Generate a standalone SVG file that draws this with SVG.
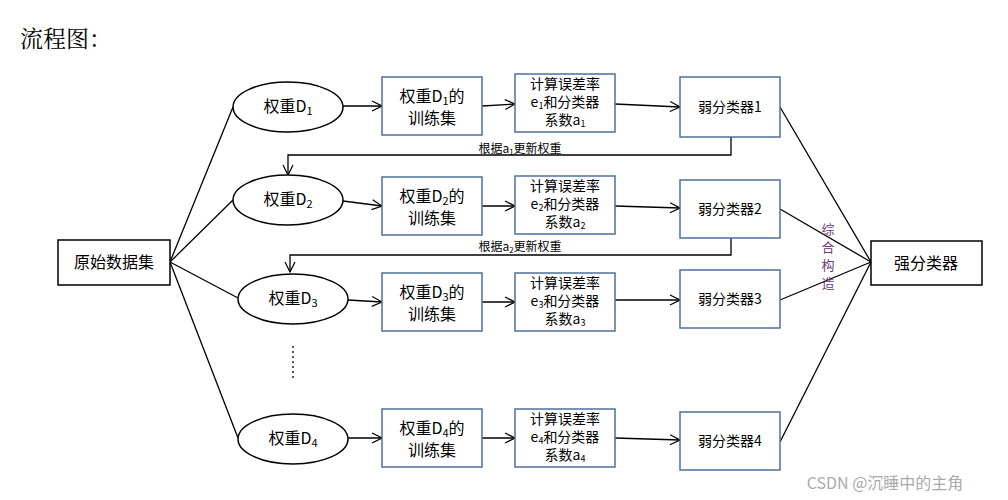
<svg xmlns="http://www.w3.org/2000/svg" width="1008" height="500" viewBox="0 0 1008 500">
<defs>
<marker id="a" markerWidth="12" markerHeight="12" refX="11" refY="6" orient="auto" markerUnits="userSpaceOnUse"><path d="M1,1 L11,6 L1,11" fill="none" stroke="#000" stroke-width="1.2"/></marker>
<style>
text{font-family:"Noto Sans CJK SC","Liberation Sans",sans-serif;fill:#000;text-anchor:middle}
.bb{fill:#fff;stroke:#4f6f9f;stroke-width:1.5}
.bk{fill:#fff;stroke:#000;stroke-width:1.5}
.el{fill:#fff;stroke:#000;stroke-width:1.5}
.c line,.c polyline{stroke:#000;stroke-width:1.3;fill:none}
.t16{font-size:16px}.t14{font-size:14px}.t12{font-size:12px}
.v{font-size:13px;fill:#6a3a7a}
</style>
</defs>
<rect width="1008" height="500" fill="#fff"/>
<text x="20" y="47" style="font-family:'Noto Serif CJK SC','Noto Sans CJK SC',serif;font-size:23px;text-anchor:start">流程图：</text>
<g class="c">
<line x1="170" y1="262" x2="233" y2="107"/><line x1="170" y1="262" x2="233" y2="200"/><line x1="170" y1="262" x2="238" y2="298"/><line x1="170" y1="262" x2="238" y2="438"/>
<line x1="343" y1="106" x2="382" y2="106" marker-end="url(#a)"/><line x1="343" y1="201" x2="382" y2="206" marker-end="url(#a)"/><line x1="348" y1="300" x2="382" y2="302" marker-end="url(#a)"/><line x1="348" y1="438" x2="382" y2="438" marker-end="url(#a)"/>
<line x1="482" y1="106" x2="515" y2="104" marker-end="url(#a)"/><line x1="482" y1="206" x2="515" y2="206" marker-end="url(#a)"/><line x1="482" y1="302" x2="515" y2="302" marker-end="url(#a)"/><line x1="482" y1="438" x2="515" y2="438" marker-end="url(#a)"/>
<line x1="615" y1="104" x2="680" y2="107" marker-end="url(#a)"/><line x1="615" y1="206" x2="680" y2="208" marker-end="url(#a)"/><line x1="615" y1="300" x2="680" y2="300" marker-end="url(#a)"/><line x1="615" y1="438" x2="680" y2="440" marker-end="url(#a)"/>
<polyline points="731,137 731,155 288,155 288,175" marker-end="url(#a)"/>
<polyline points="731,238 731,255 290,255 290,272" marker-end="url(#a)"/>
<line x1="780" y1="107" x2="871" y2="262"/><line x1="780" y1="209" x2="871" y2="262"/><line x1="780" y1="300" x2="871" y2="262"/><line x1="780" y1="442" x2="871" y2="262"/>
<line x1="293" y1="346" x2="293" y2="380" stroke-dasharray="2,3" stroke-width="2.5"/>
</g>
<text class="t12" x="520" y="153">根据a<tspan font-size="8" dy="2">1</tspan><tspan dy="-2">更新权重</tspan></text>
<text class="t12" x="520" y="251">根据a<tspan font-size="8" dy="2">2</tspan><tspan dy="-2">更新权重</tspan></text>
<g id="n0"><rect class="bk" x="58" y="240" width="112" height="45"/><text class="t16" x="114" y="268">原始数据集</text></g>
<g id="ns"><rect class="bk" x="871" y="241" width="111" height="44"/><text class="t16" x="926" y="269">强分类器</text></g>
<g id="e1"><ellipse class="el" cx="288" cy="107" rx="55" ry="25"/><text class="t16" x="288" y="112">权重D<tspan font-size="11" dy="3">1</tspan></text></g>
<g id="e2"><ellipse class="el" cx="288" cy="200" rx="55" ry="25"/><text class="t16" x="288" y="205">权重D<tspan font-size="11" dy="3">2</tspan></text></g>
<g id="e3"><ellipse class="el" cx="293" cy="299" rx="55" ry="25"/><text class="t16" x="293" y="304">权重D<tspan font-size="11" dy="3">3</tspan></text></g>
<g id="e4"><ellipse class="el" cx="293" cy="439" rx="55" ry="25"/><text class="t16" x="293" y="444">权重D<tspan font-size="11" dy="3">4</tspan></text></g>
<g id="t1"><rect class="bb" x="382" y="77" width="100" height="58"/><text class="t16" x="432" y="102">权重D<tspan font-size="11" dy="3">1</tspan><tspan dy="-3">的</tspan></text><text class="t16" x="432" y="124">训练集</text></g>
<g id="t2"><rect class="bb" x="382" y="177" width="100" height="58"/><text class="t16" x="432" y="202">权重D<tspan font-size="11" dy="3">2</tspan><tspan dy="-3">的</tspan></text><text class="t16" x="432" y="224">训练集</text></g>
<g id="t3"><rect class="bb" x="382" y="273" width="100" height="58"/><text class="t16" x="432" y="298">权重D<tspan font-size="11" dy="3">3</tspan><tspan dy="-3">的</tspan></text><text class="t16" x="432" y="320">训练集</text></g>
<g id="t4"><rect class="bb" x="382" y="409" width="100" height="58"/><text class="t16" x="432" y="434">权重D<tspan font-size="11" dy="3">4</tspan><tspan dy="-3">的</tspan></text><text class="t16" x="432" y="456">训练集</text></g>
<g id="c1"><rect class="bb" x="515" y="74" width="100" height="58"/><text class="t14" x="565" y="89">计算误差率</text><text class="t14" x="565" y="107">e<tspan font-size="9" dy="2">1</tspan><tspan dy="-2">和分类器</tspan></text><text class="t14" x="565" y="125">系数a<tspan font-size="9" dy="2">1</tspan></text></g>
<g id="c2"><rect class="bb" x="515" y="176" width="100" height="58"/><text class="t14" x="565" y="191">计算误差率</text><text class="t14" x="565" y="209">e<tspan font-size="9" dy="2">2</tspan><tspan dy="-2">和分类器</tspan></text><text class="t14" x="565" y="227">系数a<tspan font-size="9" dy="2">2</tspan></text></g>
<g id="c3"><rect class="bb" x="515" y="273" width="100" height="58"/><text class="t14" x="565" y="288">计算误差率</text><text class="t14" x="565" y="306">e<tspan font-size="9" dy="2">3</tspan><tspan dy="-2">和分类器</tspan></text><text class="t14" x="565" y="324">系数a<tspan font-size="9" dy="2">3</tspan></text></g>
<g id="c4"><rect class="bb" x="515" y="409" width="100" height="58"/><text class="t14" x="565" y="424">计算误差率</text><text class="t14" x="565" y="442">e<tspan font-size="9" dy="2">4</tspan><tspan dy="-2">和分类器</tspan></text><text class="t14" x="565" y="460">系数a<tspan font-size="9" dy="2">4</tspan></text></g>
<g id="w1"><rect class="bb" x="680" y="77" width="100" height="60"/><text class="t14" x="730" y="112">弱分类器1</text></g>
<g id="w2"><rect class="bb" x="680" y="180" width="100" height="58"/><text class="t14" x="730" y="214">弱分类器2</text></g>
<g id="w3"><rect class="bb" x="680" y="270" width="100" height="58"/><text class="t14" x="730" y="304">弱分类器3</text></g>
<g id="w4"><rect class="bb" x="680" y="412" width="100" height="58"/><text class="t14" x="730" y="446">弱分类器4</text></g>
<text class="v" x="828" y="234">综</text><text class="v" x="828" y="252">合</text><text class="v" x="828" y="270">构</text><text class="v" x="828" y="288">造</text>
<text x="885" y="489" style="font-size:16px;fill:#aaa">CSDN @沉睡中的主角</text>
</svg>
